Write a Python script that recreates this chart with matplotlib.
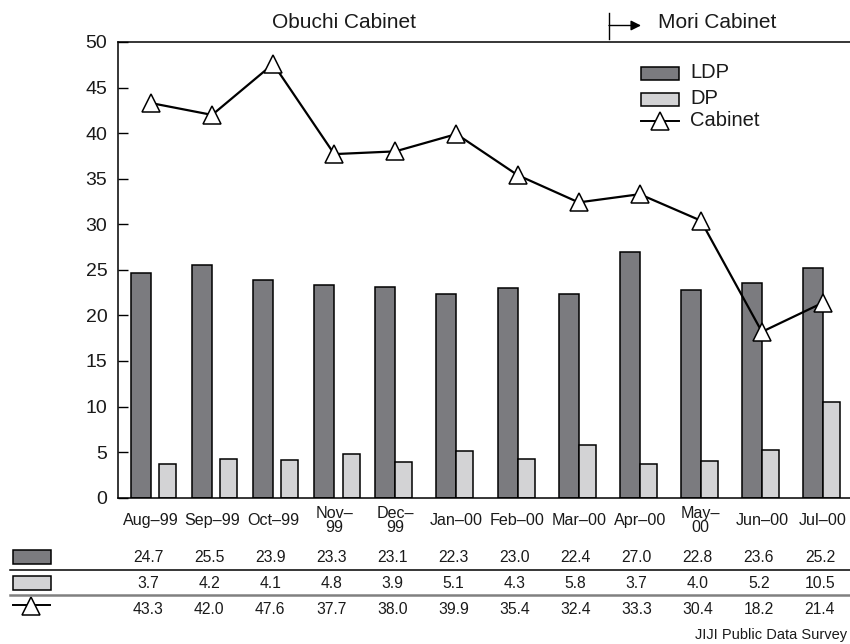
import numpy as np
import matplotlib
matplotlib.use("Agg")
import matplotlib.pyplot as plt
from matplotlib.patches import Rectangle, FancyArrowPatch
from matplotlib.lines import Line2D
import matplotlib.transforms as mtransforms
from matplotlib import font_manager

# ---------------- data ----------------
categories = ["Aug\u201399", "Sep\u201399", "Oct\u201399", "Nov\u2013\n99", "Dec\u2013\n99",
              "Jan\u201300", "Feb\u201300", "Mar\u201300", "Apr\u201300", "May\u2013\n00",
              "Jun\u201300", "Jul\u201300"]
ldp = [24.7, 25.5, 23.9, 23.3, 23.1, 22.3, 23.0, 22.4, 27.0, 22.8, 23.6, 25.2]
dp = [3.7, 4.2, 4.1, 4.8, 3.9, 5.1, 4.3, 5.8, 3.7, 4.0, 5.2, 10.5]
cabinet = [43.3, 42.0, 47.6, 37.7, 38.0, 39.9, 35.4, 32.4, 33.3, 30.4, 18.2, 21.4]
series_names = ["LDP", "DP", "Cabinet"]
yticks = [0, 5, 10, 15, 20, 25, 30, 35, 40, 45, 50]

# ---------------- style ----------------
plt.rcParams['font.family'] = ['Liberation Sans', 'DejaVu Sans']
available = {f.name for f in font_manager.fontManager.ttflist}
if 'Liberation Sans Narrow' in available:
    table_font = ['Liberation Sans Narrow', 'Liberation Sans']
    table_size = 12.5
else:
    table_font = ['Liberation Sans', 'DejaVu Sans']
    table_size = 11.3

W, H = 850, 644
ldp_color = "#7b7b7f"
dp_color = "#d3d3d5"
txt = "#1a1a1a"

def fx(px):
    return px / W

def fy(py):
    return 1 - py / H

fig = plt.figure(figsize=(W / 100, H / 100), dpi=100)
ax = fig.add_axes([fx(117.7), fy(497.7), fx(850) - fx(117.7), fy(42) - fy(497.7)])

x = np.arange(len(categories))
unit = 61.09  # px per category
w_ldp = 20 / unit
w_dp = 17 / unit
dp_gap = [8.3 / unit] * 4 + [0.0] * 8

ax.bar(x - w_ldp, ldp, width=w_ldp, align='edge', color=ldp_color,
       edgecolor='black', linewidth=1.1, zorder=2)
ax.bar(x + np.array(dp_gap), dp, width=w_dp, align='edge', color=dp_color,
       edgecolor='black', linewidth=1.1, zorder=2)
ax.plot(x, cabinet, color='black', linewidth=1.6, marker='^', markersize=13,
        markerfacecolor='white', markeredgecolor='black', markeredgewidth=1.1,
        zorder=3, clip_on=False)

ax.set_xlim((117.7 - 151) / unit, (850 - 151) / unit)
ax.set_ylim(0, 50)
ax.set_yticks(yticks)
ax.set_yticklabels([str(v) for v in yticks])
ax.tick_params(axis='y', direction='in', length=7.2, width=1.0, pad=7.5,
               labelsize=14, labelcolor=txt)
ax.set_xticks(x)
ax.set_xticklabels(categories)
ax.tick_params(axis='x', length=0, pad=16.6, labelsize=11.6, labelcolor=txt)
for lab in ax.get_xticklabels():
    lab.set_va('center')
    lab.set_linespacing(0.92)

ax.spines['right'].set_visible(False)
for s in ['left', 'top', 'bottom']:
    ax.spines[s].set_linewidth(1.1)

# ---------------- header ----------------
fig.text(fx(344.5), fy(22), "Obuchi Cabinet", fontsize=15, ha='center', va='center', color=txt)
fig.text(fx(658), fy(23), "Mori Cabinet", fontsize=15, ha='left', va='center', color=txt)
fig.add_artist(Line2D([fx(609), fx(609)], [fy(13), fy(39)], transform=fig.transFigure,
                      color='black', linewidth=1.0))
fig.add_artist(FancyArrowPatch(
    (fx(609), fy(25.5)), (fx(641), fy(25.5)), transform=fig.transFigure,
    arrowstyle='-|>', mutation_scale=15, color='black', linewidth=1.0,
    shrinkA=0, shrinkB=0))

# ---------------- in-plot legend ----------------
leg_rows = [73, 99, 121]
for i, name in enumerate(series_names):
    yc = leg_rows[i]
    if i < 2:
        fig.add_artist(Rectangle((fx(641), fy(yc + 6.5)), fx(679) - fx(641), 13 / H,
                                 transform=fig.transFigure,
                                 facecolor=[ldp_color, dp_color][i],
                                 edgecolor='black', linewidth=1.1))
    else:
        fig.add_artist(Line2D([fx(641), fx(679)], [fy(yc), fy(yc)], transform=fig.transFigure,
                              color='black', linewidth=1.4))
        fig.add_artist(Line2D([fx(660)], [fy(yc)], transform=fig.transFigure,
                              marker='^', markersize=13, markerfacecolor='white',
                              markeredgecolor='black', markeredgewidth=1.1, linestyle='none'))
    fig.text(fx(690), fy(yc), name, fontsize=14.5, ha='left', va='center', color=txt)

# ---------------- data table ----------------
blend = mtransforms.blended_transform_factory(ax.transData, fig.transFigure)
row_y = [557, 583, 609]
rows = [ldp, dp, cabinet]
for r, vals in enumerate(rows):
    for xi, v in zip(x, vals):
        ax.text(xi - 0.05, fy(row_y[r]), f"{v:.1f}", transform=blend, fontsize=table_size,
                family=table_font, ha='center', va='center', color=txt, clip_on=False)

# swatches
fig.add_artist(Rectangle((fx(12.5), fy(564)), fx(50.5) - fx(12.5), 14.5 / H,
                         transform=fig.transFigure, facecolor=ldp_color,
                         edgecolor='black', linewidth=1.1))
fig.add_artist(Rectangle((fx(12.5), fy(590)), fx(50.5) - fx(12.5), 14.5 / H,
                         transform=fig.transFigure, facecolor=dp_color,
                         edgecolor='black', linewidth=1.1))
fig.add_artist(Line2D([fx(13), fx(50)], [fy(605), fy(605)], transform=fig.transFigure,
                      color='black', linewidth=1.4))
fig.add_artist(Line2D([fx(31)], [fy(605.5)], transform=fig.transFigure,
                      marker='^', markersize=13, markerfacecolor='white',
                      markeredgecolor='black', markeredgewidth=1.1, linestyle='none'))

# separator lines
fig.add_artist(Line2D([fx(10), fx(850)], [fy(569.5), fy(569.5)], transform=fig.transFigure,
                      color='black', linewidth=1.1))
fig.add_artist(Line2D([fx(10), fx(850)], [fy(594.5), fy(594.5)], transform=fig.transFigure,
                      color='#808080', linewidth=1.8))

fig.text(fx(847), fy(635), "JIJI Public Data Survey", fontsize=10.5, ha='right',
         va='center', color=txt)

fig.savefig("out.png", dpi=100)
